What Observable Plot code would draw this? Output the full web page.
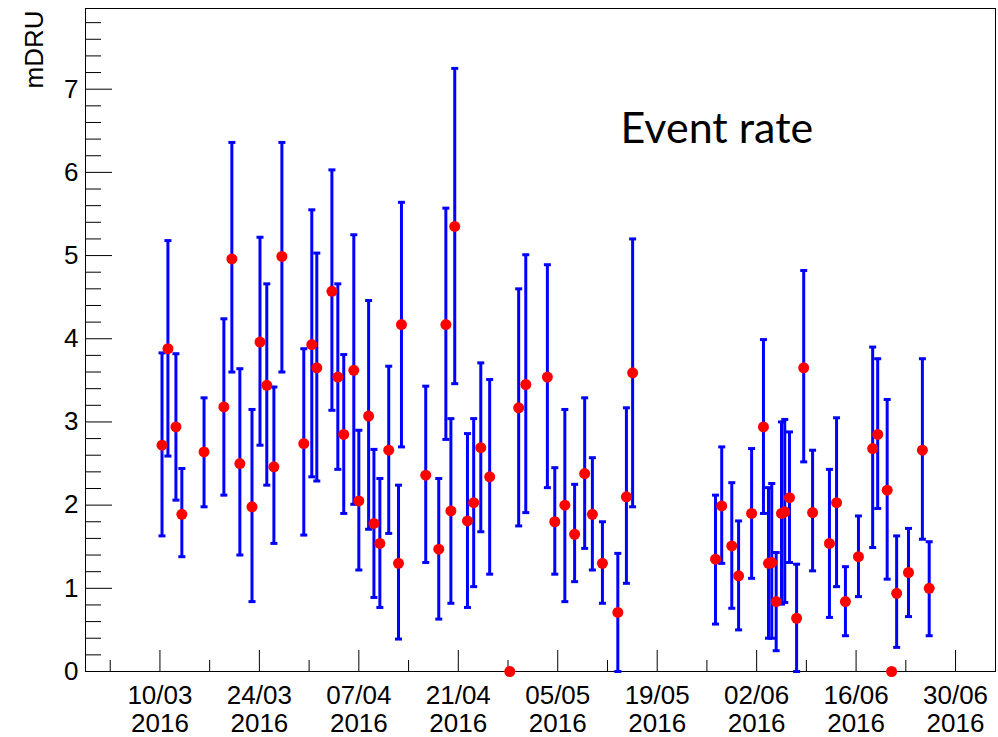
<!DOCTYPE html>
<html>
<head>
<meta charset="utf-8">
<script src="https://cdn.jsdelivr.net/npm/d3@7"></script>
<script src="https://cdn.jsdelivr.net/npm/@observablehq/plot@0.6"></script>
<style>
  html, body { margin: 0; padding: 0; background: #fff; }
  #chart { width: 998px; height: 737px; }
</style>
</head>
<body>
<div id="chart"></div>
<script>
// Measurement times (UTC)
const dates = [
  "2016-03-10T07:00Z","2016-03-11T03:00Z","2016-03-12T06:00Z","2016-03-13T02:00Z","2016-03-16T05:00Z",
  "2016-03-19T00:00Z","2016-03-20T03:00Z","2016-03-21T06:00Z","2016-03-22T23:00Z","2016-03-24T02:00Z",
  "2016-03-25T01:00Z","2016-03-26T01:00Z","2016-03-27T04:00Z","2016-03-30T06:00Z","2016-03-31T09:00Z",
  "2016-04-01T02:00Z","2016-04-03T05:00Z","2016-04-04T01:00Z","2016-04-04T21:00Z","2016-04-06T07:00Z",
  "2016-04-07T00:00Z","2016-04-08T09:00Z","2016-04-09T03:00Z","2016-04-09T23:00Z","2016-04-11T05:00Z",
  "2016-04-12T14:00Z","2016-04-13T00:00Z","2016-04-16T10:00Z","2016-04-18T06:00Z","2016-04-19T06:00Z",
  "2016-04-19T23:00Z","2016-04-20T12:00Z","2016-04-22T07:00Z","2016-04-23T04:00Z","2016-04-24T04:00Z",
  "2016-04-25T10:00Z","2016-04-28T06:00Z","2016-04-29T12:00Z","2016-04-30T12:00Z","2016-05-03T13:00Z",
  "2016-05-04T14:00Z","2016-05-06T00:00Z","2016-05-07T09:00Z","2016-05-08T19:00Z","2016-05-09T21:00Z",
  "2016-05-11T07:00Z","2016-05-13T11:00Z","2016-05-14T16:00Z","2016-05-15T13:00Z","2016-05-27T05:00Z",
  "2016-05-28T02:00Z","2016-05-29T12:00Z","2016-05-30T11:00Z","2016-06-01T07:00Z","2016-06-02T23:00Z",
  "2016-06-03T16:00Z","2016-06-04T03:00Z","2016-06-04T18:00Z","2016-06-05T12:00Z","2016-06-05T23:00Z",
  "2016-06-06T15:00Z","2016-06-07T15:00Z","2016-06-08T15:00Z","2016-06-09T21:00Z","2016-06-12T06:00Z",
  "2016-06-13T06:00Z","2016-06-14T12:00Z","2016-06-16T08:00Z","2016-06-18T08:00Z","2016-06-19T01:00Z",
  "2016-06-20T09:00Z","2016-06-21T00:00Z","2016-06-21T17:00Z","2016-06-23T09:00Z","2016-06-25T08:00Z",
  "2016-06-26T07:00Z"
];
// Event rate (mDRU)
const rate = [
  2.72,3.88,2.94,1.89,2.64, 3.18,4.96,2.50,1.98,3.96, 3.44,2.46,4.99,2.74,3.93,
  3.65,4.57,3.54,2.85,3.62, 2.05,3.07,1.78,1.54,2.66, 1.30,4.17,2.36,1.47,4.17,
  1.93,5.35,1.81,2.03,2.69, 2.34,0.00,3.17,3.45,3.54, 1.80,2.00,1.65,2.38,1.89,
  1.30,0.71,2.10,3.59,1.35, 1.99,1.51,1.15,1.90,2.94, 1.30,1.31,0.84,1.90,1.92,
  2.09,0.64,3.65,1.91,1.54, 2.03,0.84,1.38,2.68,2.85, 2.18,0.00,0.94,1.19,2.66,
  1.00
];
// Lower end of error bar
const errLow = [
  1.63,2.59,2.06,1.38,1.98, 2.12,3.60,1.40,0.84,2.72, 2.24,1.54,3.60,1.64,2.34,
  2.29,3.14,2.43,1.90,2.01, 1.22,1.71,0.89,0.77,1.66, 0.39,2.70,1.31,0.63,2.79,
  0.82,3.46,0.77,1.02,1.68, 1.17,0.00,1.75,1.91,2.21, 1.17,0.84,1.08,1.48,1.22,
  0.82,0.00,1.06,1.98,0.57, 1.30,0.76,0.50,1.12,1.90, 0.40,0.40,0.25,0.81,0.83,
  1.31,0.00,2.52,1.21,0.65, 1.02,0.43,0.90,1.49,1.96, 1.11,0.00,0.29,0.66,1.59,
  0.43
];
// Upper end of error bar
const errHigh = [
  3.83,5.18,3.82,2.44,3.29, 4.24,6.36,3.64,3.15,5.22, 4.66,3.42,6.36,3.88,5.55,
  5.03,6.03,4.66,3.81,5.25, 2.90,4.46,2.67,2.32,3.67, 2.24,5.64,3.43,2.32,5.57,
  3.04,7.25,2.86,3.04,3.71, 3.51,0.00,4.60,5.01,4.89, 2.45,3.15,2.25,3.29,2.57,
  1.80,1.42,3.17,5.20,2.12, 2.70,2.27,1.81,2.68,3.99, 2.21,2.26,1.43,3.00,3.03,
  2.88,1.29,4.82,2.66,2.43, 3.05,1.26,1.87,3.90,3.76, 3.27,0.00,1.63,1.72,3.76,
  1.56
];

// Axis ticks
const xMajorTicks = ["2016-03-10","2016-03-24","2016-04-07","2016-04-21","2016-05-05",
                     "2016-05-19","2016-06-02","2016-06-16","2016-06-30"];
const xMinorTicks = ["2016-03-03","2016-03-17","2016-03-31","2016-04-14","2016-04-28",
                     "2016-05-12","2016-05-26","2016-06-09","2016-06-23"];
const yMajorTicks = [0,1,2,3,4,5,6,7];
const yMinorTicks = [0.2,0.4,0.6,0.8,1.2,1.4,1.6,1.8,2.2,2.4,2.6,2.8,3.2,3.4,3.6,3.8,
                     4.2,4.4,4.6,4.8,5.2,5.4,5.6,5.8,6.2,6.4,6.6,6.8,7.2,7.4,7.6,7.8];
const xDomain = ["2016-02-28T12:30Z", "2016-07-05T15:00Z"];
const yDomain = [0, 7.97];
const yTitle = "mDRU";
const annotation = "Event rate";

const data = dates.map((d, i) => ({
  date: new Date(d), value: rate[i], lo: errLow[i], hi: errHigh[i]
}));
const withErr = data.filter(d => d.hi > d.lo);

const capSymbol = { draw(ctx) { ctx.moveTo(-3.5, 0); ctx.lineTo(3.5, 0); } };
const fmt = d3.utcFormat("%d/%m\n%Y");

const chart = Plot.plot({
  width: 998,
  height: 737,
  marginLeft: 85,
  marginRight: 3,
  marginTop: 8,
  marginBottom: 66,
  style: { fontFamily: "'Liberation Sans', Arial, sans-serif", background: "#fff", color: "#000", overflow: "visible" },
  x: { type: "utc", domain: xDomain.map(s => new Date(s)) },
  y: { domain: yDomain },
  marks: [
    // y axis: minor ticks, major ticks, labels
    Plot.axisY(yMinorTicks, { tickSize: -16, fill: "none", label: null }),
    Plot.axisY(yMajorTicks, { tickSize: -27, fill: "none", label: null }),
    Plot.axisY(yMajorTicks, { tickSize: 0, tickPadding: 7, fontSize: 26, label: null, tickFormat: d => String(d) }),
    // x axis: minor ticks, major ticks, labels
    Plot.axisX(xMinorTicks.map(s => new Date(s)), { tickSize: -11, fill: "none", label: null }),
    Plot.axisX(xMajorTicks.map(s => new Date(s)), { tickSize: -21, fill: "none", label: null }),
    Plot.axisX(xMajorTicks.map(s => new Date(s)), { tickSize: 0, tickPadding: 13, fontSize: 26, lineHeight: 1.06, label: null, tickFormat: fmt }),
    Plot.frame({ stroke: "#000", strokeWidth: 1 }),
    // error bars
    Plot.ruleX(withErr, { x: "date", y1: "lo", y2: "hi", stroke: "#0000ff", strokeWidth: 3 }),
    Plot.dot(withErr, { x: "date", y: "lo", symbol: capSymbol, stroke: "#0000ff", strokeWidth: 3, fill: "none" }),
    Plot.dot(withErr, { x: "date", y: "hi", symbol: capSymbol, stroke: "#0000ff", strokeWidth: 3, fill: "none" }),
    // markers
    Plot.dot(data, { x: "date", y: "value", r: 5.5, fill: "#ff0000", stroke: "none" }),
    // texts
    Plot.text([yTitle], { frameAnchor: "top-left", rotate: -90, textAnchor: "end", dx: -61, dy: 2, fontSize: 26, fill: "#000" }),
    Plot.text([annotation], { frameAnchor: "top-left", textAnchor: "start", dx: 535, dy: 104, fontSize: 43, fontFamily: "Lato, 'Open Sans', sans-serif", fill: "#000" })
  ]
});
document.getElementById("chart").appendChild(chart);
</script>
</body>
</html>
